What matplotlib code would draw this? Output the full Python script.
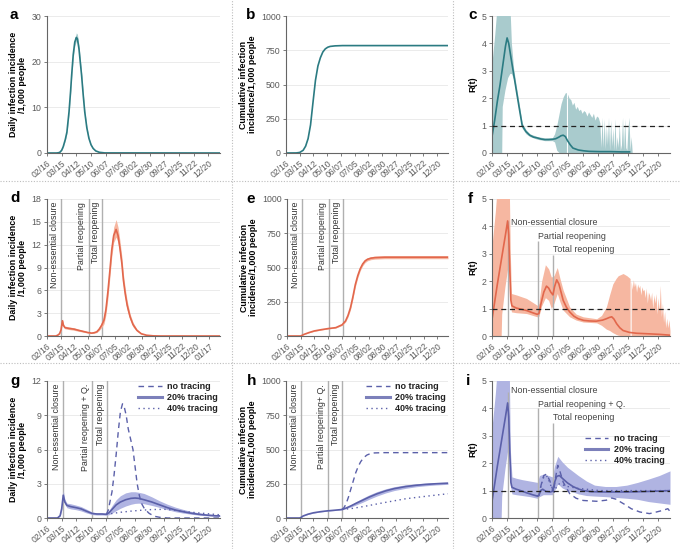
import matplotlib.pyplot as plt
from matplotlib.lines import Line2D

plt.rcParams['font.family'] = ['Liberation Sans', 'DejaVu Sans']

# tick labels (every 28 days from 02/16)
DATE_LABELS = ['02/16', '03/15', '04/12', '05/10', '06/07', '07/05', '08/02',
               '08/30', '09/27', '10/25', '11/22', '12/20']
D_DATE_LABELS = DATE_LABELS + ['01/17']

EVENT_DAYS = [30, 86, 114]
EVENTS_DE = ['Non-essential closure', 'Partial reopening', 'Total reopening']
EVENTS_G = ['Non-essential closure', 'Partial reopening + Q.', 'Total reopening']
EVENTS_H = ['Non-essential closure', 'Partial reopening+ Q.', 'Total reopening']
EVENTS_I = ['Non-essential closure', 'Partial reopening + Q.', 'Total reopening']
LEGEND_LABELS = ['no tracing', '20% tracing', '40% tracing']

# a - daily incidence, no intervention
A_DAYS = [0, 18, 22, 25, 28, 31, 35, 38, 42, 45, 47, 50, 53, 56, 58, 61, 64, 66, 69, 72, 76, 80, 84, 88, 93, 100, 110, 330]
A_MEAN = [0, 0, 0.05, 0.2, 0.6, 1.4, 3.0, 4.6, 9.0, 13.5, 17.0, 21.5, 24.3, 25.3, 25.0, 22.8, 19.3, 17.0, 12.8, 9.0, 5.5, 3.2, 1.8, 1.0, 0.45, 0.15, 0.02, 0]
A_LO = [0, 0, 0.04, 0.18, 0.55, 1.3, 2.8, 4.3, 8.6, 13.0, 16.4, 20.8, 23.5, 24.5, 24.2, 22.0, 18.6, 16.4, 12.3, 8.6, 5.2, 3.0, 1.7, 0.9, 0.4, 0.13, 0.02, 0]
A_HI = [0, 0, 0.06, 0.22, 0.65, 1.5, 3.2, 4.9, 9.4, 14.0, 17.6, 22.2, 25.1, 26.3, 26.0, 23.6, 20.0, 17.6, 13.3, 9.4, 5.8, 3.4, 1.9, 1.1, 0.5, 0.17, 0.02, 0]

# b - cumulative, no intervention
B_DAYS = [0, 21, 28, 35, 40, 45, 50, 55, 60, 65, 70, 75, 80, 85, 90, 100, 115, 330]
B_MEAN = [0, 0.5, 4, 20, 50, 105, 205, 370, 530, 635, 695, 737, 760, 772, 778, 782, 784, 784]

# c - R(t), no intervention
C_DAYS = [0, 5, 10, 15, 20, 25, 28, 31, 35, 40, 45, 50, 56, 63, 70, 77, 84, 91, 98, 105, 112, 118, 124, 128, 132, 136, 140, 145, 150, 160, 170, 180, 200, 220, 240, 255]
C_MEAN = [0.6, 1.2, 1.9, 2.5, 3.2, 3.9, 4.2, 4.0, 3.5, 2.9, 2.3, 1.7, 1.0, 0.78, 0.65, 0.58, 0.55, 0.51, 0.49, 0.49, 0.5, 0.52, 0.58, 0.63, 0.65, 0.6, 0.45, 0.3, 0.18, 0.11, 0.08, 0.06, 0.05, 0.05, 0.04, 0.04]
C_BAND_DAYS = [0, 5, 10, 18, 19, 24, 29, 33, 36, 40, 45, 50, 56, 63, 70, 84, 98, 112, 116, 120, 124, 128, 132, 136, 138]
C_BAND_LO = [0, 0, 0, 0, 1.7, 2.3, 2.75, 2.9, 2.9, 2.7, 2.15, 1.55, 0.9, 0.7, 0.6, 0.5, 0.45, 0.45, 0.4, 0.1, 0.02, 0, 0, 0, 0]
C_BAND_HI = [3.3, 4.3, 5.5, 5.5, 5.5, 5.5, 5.5, 5.5, 4.0, 3.1, 2.45, 1.85, 1.1, 0.85, 0.7, 0.6, 0.55, 0.56, 0.7, 1.0, 1.4, 1.8, 2.05, 2.2, 2.2]
C_SPIKE_DAYS = list(range(140, 201, 3)) + list(range(202, 261, 2))
C_SPIKE_HI = [2.15, 2.0, 1.95, 1.75, 1.85, 1.6, 1.7, 1.55, 1.6, 1.45, 1.55, 1.5, 1.35, 1.5, 1.4, 1.3, 1.45, 1.2, 1.35, 1.3, 1.1,
              0.2, 1.3, 0.2, 1.25, 0.15, 1.0, 0.3, 1.3, 0.1, 1.2, 0.25, 0.9, 0.1, 1.25, 0.1, 0.6, 0.2, 1.1, 0.1, 0.3,
              1.3, 0.1, 1.25, 0.2, 0.1, 0.9, 1.3, 0.1, 0.6, 0]

# d - daily incidence with interventions
D_DAYS = [0, 18, 22, 26, 29, 32, 34, 37, 45, 56, 65, 75, 85, 92, 97, 103, 108, 113, 118, 122, 126, 130, 134, 138, 143, 147, 151, 155, 158, 162, 166, 172, 178, 186, 195, 206, 220, 235, 358]
D_MEAN = [0, 0, 0.1, 0.3, 0.8, 2.0, 1.4, 1.1, 1.0, 0.9, 0.75, 0.6, 0.45, 0.38, 0.42, 0.55, 0.9, 1.4, 2.1, 3.5, 5.8, 8.5, 11.3, 13.2, 14.0, 13.2, 11.5, 9.5, 7.4, 5.5, 4.0, 2.5, 1.5, 0.75, 0.3, 0.1, 0.02, 0, 0]
D_LO = [0, 0, 0.08, 0.25, 0.7, 1.8, 1.25, 0.95, 0.85, 0.75, 0.62, 0.5, 0.38, 0.32, 0.35, 0.45, 0.72, 1.1, 1.6, 2.8, 4.9, 7.6, 10.4, 12.3, 13.0, 12.3, 10.6, 8.6, 6.6, 4.8, 3.4, 2.1, 1.2, 0.6, 0.24, 0.08, 0.01, 0, 0]
D_HI = [0, 0, 0.12, 0.35, 0.9, 2.25, 1.6, 1.3, 1.2, 1.08, 0.9, 0.72, 0.55, 0.46, 0.52, 0.7, 1.15, 1.8, 2.7, 4.4, 6.8, 9.5, 12.3, 14.3, 15.3, 14.3, 12.5, 10.4, 8.2, 6.2, 4.6, 2.9, 1.8, 0.9, 0.38, 0.13, 0.03, 0, 0]

# e - cumulative with interventions
E_DAYS = [0, 28, 31, 35, 45, 56, 70, 84, 100, 113, 120, 125, 130, 135, 140, 145, 150, 155, 160, 165, 172, 180, 200, 330]
E_MEAN = [0, 0, 5, 12, 25, 37, 46, 54, 61, 82, 110, 150, 205, 285, 375, 440, 490, 525, 548, 560, 568, 572, 575, 575]
E_LO = [0, 0, 4, 11, 23, 34, 43, 51, 58, 77, 102, 138, 190, 268, 357, 424, 476, 512, 536, 549, 557, 561, 564, 564]
E_HI = [0, 0, 6, 13, 27, 40, 49, 57, 64, 87, 118, 162, 220, 302, 393, 456, 504, 538, 560, 571, 579, 583, 586, 586]

# f - R(t) with interventions
F_DAYS = [0, 5, 10, 15, 20, 25, 29, 31, 33, 35, 37, 45, 56, 64, 75, 84, 87, 91, 96, 101, 105, 109, 113, 116, 120, 124, 128, 132, 138, 144, 152, 160, 170, 180, 193, 205, 212, 218, 222, 226, 231, 237, 243, 255, 268, 290, 310, 330]
F_MEAN = [0.6, 1.25, 1.9, 2.5, 3.1, 3.7, 4.2, 3.7, 2.4, 1.3, 1.1, 1.02, 0.97, 0.93, 0.85, 0.79, 0.82, 1.2, 1.6, 1.82, 1.75, 1.6, 1.5, 1.8, 2.05, 1.9, 1.6, 1.3, 1.05, 0.88, 0.72, 0.63, 0.57, 0.55, 0.54, 0.58, 0.63, 0.68, 0.7, 0.62, 0.45, 0.3, 0.2, 0.13, 0.1, 0.08, 0.06, 0.03]
F_BAND_DAYS = [0, 6, 10, 17, 18, 24, 30, 32, 34, 36, 45, 64, 84, 87, 92, 99, 105, 110, 115, 121, 126, 132, 144, 156, 169, 194, 203, 212, 218, 224, 230, 234, 243, 250, 256]
F_BAND_LO = [0, 0, 0, 0, 0.8, 1.8, 2.6, 2.4, 1.2, 0.88, 0.85, 0.82, 0.7, 0.72, 1.1, 1.4, 1.3, 1.0, 1.2, 1.55, 1.25, 0.94, 0.7, 0.58, 0.51, 0.48, 0.39, 0.25, 0.2, 0.12, 0.06, 0.03, 0, 0, 0]
F_BAND_HI = [3.3, 4.5, 5.5, 5.5, 5.5, 5.5, 5.5, 5.5, 3.0, 1.55, 1.5, 1.37, 1.12, 1.2, 2.0, 2.6, 2.45, 2.15, 2.2, 2.5, 2.1, 1.67, 1.06, 0.8, 0.7, 0.63, 0.75, 1.06, 1.5, 1.9, 2.1, 2.2, 2.28, 2.2, 2.1]
F_SPIKE_DAYS = list(range(258, 331, 2))
F_SPIKE_HI = [2.0, 1.7, 2.05, 1.8, 1.95, 1.6, 1.9, 1.75, 1.85, 1.5, 1.8, 1.65, 1.7, 1.4, 1.75, 1.2, 1.6, 1.5, 1.3,
              1.6, 1.0, 1.5, 1.2, 1.55, 0.8, 1.4, 0.9, 1.85, 0.7, 1.2, 0.5, 0.9, 0.3, 0.65, 0.3, 0.6, 0.2]

# g - daily incidence with contact tracing
G_DAYS = [0, 20, 25, 28, 31, 34, 38, 45, 56, 65, 75, 86, 95, 105, 113, 118, 125, 132, 140, 150, 160, 168, 175, 185, 200, 215, 230, 245, 260, 275, 290, 305, 320, 330]
G_20 = [0, 0, 0.2, 0.8, 2.0, 1.4, 1.1, 1.0, 0.9, 0.8, 0.6, 0.4, 0.35, 0.35, 0.32, 0.45, 0.8, 1.15, 1.4, 1.6, 1.72, 1.75, 1.72, 1.6, 1.4, 1.15, 0.9, 0.7, 0.55, 0.42, 0.32, 0.25, 0.2, 0.18]
G_20_LO = [0, 0, 0.15, 0.65, 1.7, 1.2, 0.9, 0.8, 0.72, 0.62, 0.45, 0.3, 0.26, 0.26, 0.25, 0.28, 0.45, 0.65, 0.85, 1.05, 1.2, 1.28, 1.3, 1.25, 1.1, 0.92, 0.72, 0.55, 0.43, 0.33, 0.25, 0.19, 0.15, 0.13]
G_20_HI = [0, 0, 0.25, 0.95, 2.4, 1.65, 1.3, 1.25, 1.12, 1.0, 0.78, 0.52, 0.45, 0.45, 0.42, 0.65, 1.15, 1.6, 1.95, 2.2, 2.3, 2.3, 2.25, 2.15, 1.85, 1.5, 1.2, 0.95, 0.75, 0.58, 0.45, 0.35, 0.3, 0.27]
G_NO_DAYS = [113, 117, 120, 124, 128, 132, 136, 140, 144, 147, 151, 155, 160, 164, 168, 172, 176, 180, 186, 195, 205, 215, 230, 330]
G_NO = [0.32, 0.7, 1.4, 2.3, 3.8, 5.6, 7.6, 9.3, 10.0, 9.8, 9.0, 7.8, 6.8, 6.0, 4.5, 3.0, 2.0, 1.3, 0.8, 0.4, 0.15, 0.06, 0, 0]
G_40_DAYS = [113, 125, 140, 160, 180, 200, 225, 245, 260, 290, 310, 330]
G_40 = [0.32, 0.4, 0.5, 0.6, 0.68, 0.74, 0.76, 0.68, 0.58, 0.44, 0.36, 0.28]

# h - cumulative with contact tracing
H_DAYS = [0, 28, 31, 35, 45, 56, 70, 84, 100, 114, 122, 132, 142, 155, 169, 185, 203, 220, 243, 265, 284, 305, 330]
H_20 = [0, 0, 5, 15, 28, 38, 46, 52, 57, 62, 72, 88, 106, 128, 152, 176, 198, 214, 229, 239, 245, 250, 254]
H_20_LO = [0, 0, 4, 14, 26, 36, 44, 50, 55, 60, 68, 80, 94, 113, 136, 160, 183, 200, 216, 228, 235, 241, 246]
H_20_HI = [0, 0, 6, 16, 30, 40, 48, 54, 59, 64, 76, 96, 118, 143, 168, 192, 213, 228, 242, 250, 255, 259, 262]
H_NO_DAYS = [114, 118, 122, 127, 132, 137, 142, 147, 152, 158, 165, 172, 180, 200, 330]
H_NO = [62, 75, 100, 150, 210, 270, 330, 375, 410, 440, 460, 470, 475, 477, 477]
H_40_DAYS = [114, 135, 160, 189, 215, 243, 265, 284, 305, 330]
H_40 = [62, 70, 85, 105, 122, 140, 150, 158, 167, 177]

# i - R(t) with contact tracing
I_DAYS = [0, 5, 10, 15, 20, 25, 29, 31, 33, 35, 37, 45, 56, 64, 75, 84, 87, 90, 94, 100, 108, 113, 116, 120, 125, 132, 140, 150, 160, 170, 185, 210, 250, 290, 330]
I_20 = [0.6, 1.25, 1.9, 2.5, 3.1, 3.7, 4.2, 3.7, 2.4, 1.3, 1.12, 1.05, 0.98, 0.92, 0.85, 0.8, 0.83, 1.0, 1.05, 0.97, 0.95, 0.98, 1.3, 1.52, 1.55, 1.42, 1.28, 1.15, 1.06, 1.0, 0.96, 0.95, 0.95, 0.97, 1.0]
I_BAND_DAYS = [0, 6, 10, 17, 18, 24, 30, 32, 34, 37, 45, 56, 70, 84, 88, 95, 105, 112, 116, 122, 130, 140, 150, 160, 175, 190, 210, 230, 250, 270, 290, 310, 330]
I_BAND_LO = [0, 0, 0, 0, 0.8, 1.8, 2.6, 2.4, 1.2, 0.88, 0.85, 0.82, 0.78, 0.72, 0.78, 0.85, 0.85, 0.85, 1.0, 1.25, 1.1, 1.0, 0.95, 0.88, 0.82, 0.8, 0.78, 0.75, 0.72, 0.68, 0.6, 0.55, 0.5]
I_BAND_HI = [3.3, 4.5, 5.5, 5.5, 5.5, 5.5, 5.5, 5.5, 2.5, 1.5, 1.45, 1.4, 1.35, 1.3, 1.55, 1.6, 1.55, 1.5, 1.9, 2.25, 2.05, 1.85, 1.7, 1.55, 1.35, 1.2, 1.15, 1.15, 1.2, 1.3, 1.42, 1.55, 1.72]
I_NO_DAYS = [84, 87, 91, 96, 101, 107, 114, 118, 122, 126, 132, 144, 156, 169, 194, 212, 222, 231, 237, 249, 258, 274, 292, 305, 317, 326, 330]
I_NO = [0.8, 0.82, 1.2, 1.55, 1.6, 1.37, 0.95, 1.5, 1.92, 1.7, 1.31, 0.89, 0.72, 0.64, 0.61, 0.65, 0.73, 0.68, 0.6, 0.46, 0.34, 0.22, 0.16, 0.22, 0.28, 0.34, 0.24]
I_40_DAYS = [84, 87, 91, 96, 101, 107, 114, 120, 125, 140, 160, 180, 200, 250, 330]
I_40 = [0.8, 0.82, 1.2, 1.5, 1.55, 1.3, 0.9, 1.15, 1.25, 1.15, 1.08, 1.04, 1.0, 1.0, 1.0]

TEAL, TEAL_FILL = '#2b7b82', '#a9cbcd'
ORANGE, ORANGE_FILL = '#e2674c', '#f6b7a1'
BLUE, BLUE_FILL = '#5b60a9', '#b0b4e2'
TICK_COLOR = '#5a5a5a'
EVENT_COLOR = '#b0b0b0'

W, H = 680, 549
fig = plt.figure(figsize=(W / 100, H / 100), dpi=100)


def add_axes(l, t, r, b):
    return fig.add_axes([l / W, 1 - b / H, (r - l) / W, (b - t) / H])


def style(ax, labels, xmax, ymax, yticks, ylabel):
    ax.set_xlim(0, xmax)
    ax.set_ylim(0, ymax)
    for s in ['top', 'right']:
        ax.spines[s].set_visible(False)
    for s in ['left', 'bottom']:
        ax.spines[s].set_color('#666666')
        ax.spines[s].set_linewidth(0.8)
    ax.set_xticks([28 * i for i in range(len(labels))])
    ax.set_xticklabels(labels, rotation=40, ha='right', va='top', rotation_mode='anchor',
                       fontsize=6.2, color=TICK_COLOR)
    ax.set_yticks(yticks)
    ax.set_yticklabels([str(t) for t in yticks], fontsize=6.3, color=TICK_COLOR)
    ax.tick_params(length=2.5, width=0.6, color='#666666', pad=1.5)
    ax.grid(axis='y', color='#e8e8e8', lw=0.6)
    ax.set_axisbelow(True)
    ax.set_ylabel(ylabel, fontsize=6.4, fontweight='bold', linespacing=1.0, labelpad=3)


def panel_letter(x, y, s):
    fig.text(x / W, 1 - y / H, s, fontsize=11, fontweight='bold', ha='left', va='center')


def vertical_events(ax, labels):
    for day, lab in zip(EVENT_DAYS, labels):
        ax.axvline(day, color=EVENT_COLOR, lw=1.0, zorder=1)
        ax.annotate(lab, xy=(day, 1), xycoords=('data', 'axes fraction'), xytext=(-1.5, -2),
                    textcoords='offset points', rotation=90, ha='right', va='top',
                    fontsize=6.4, color='#333333')


def r_events(ax, labels, tops, text_y):
    xs = [EVENT_DAYS[0] + 5, EVENT_DAYS[1] - 1, EVENT_DAYS[2] - 1]
    for day, top, lab, tx, ty in zip(EVENT_DAYS, tops, labels, xs, text_y):
        ax.vlines(day, 0, top, color=EVENT_COLOR, lw=1.0, zorder=1)
        ax.text(tx, ty, lab, ha='left', va='center', fontsize=6.4, color='#444444')


def r_ref(ax):
    ax.axhline(1, color='#222222', lw=0.9, ls=(0, (4, 3)), zorder=4)


daily_label = 'Daily infection incidence\n/1,000 people'
cum_label = 'Cumulative infection\nincidence/1,000 people'

# row 1
ax = add_axes(47, 16, 220, 153)
style(ax, DATE_LABELS, 330, 30, [0, 10, 20, 30], daily_label)
ax.fill_between(A_DAYS, A_LO, A_HI, color=TEAL_FILL, lw=0)
ax.plot(A_DAYS, A_MEAN, color=TEAL, lw=1.2)

ax = add_axes(286, 16, 448, 153)
style(ax, DATE_LABELS, 330, 1000, [0, 250, 500, 750, 1000], cum_label)
ax.plot(B_DAYS, B_MEAN, color=TEAL, lw=1.2)

ax = add_axes(492, 16, 670, 153)
style(ax, DATE_LABELS, 330, 5, [0, 1, 2, 3, 4, 5], 'R(t)')
ax.fill_between(C_BAND_DAYS, C_BAND_LO, C_BAND_HI, color=TEAL_FILL, lw=0)
ax.fill_between(C_SPIKE_DAYS, [0] * len(C_SPIKE_DAYS), C_SPIKE_HI, color=TEAL_FILL, lw=0)
ax.plot(C_DAYS, C_MEAN, color=TEAL, lw=1.2)
r_ref(ax)

# row 2
ax = add_axes(47, 199, 220, 336)
style(ax, D_DATE_LABELS, 358, 18, [0, 3, 6, 9, 12, 15, 18], daily_label)
vertical_events(ax, EVENTS_DE)
ax.fill_between(D_DAYS, D_LO, D_HI, color=ORANGE_FILL, lw=0)
ax.plot(D_DAYS, D_MEAN, color=ORANGE, lw=1.2)

ax = add_axes(287, 199, 448, 336)
style(ax, DATE_LABELS, 330, 1000, [0, 250, 500, 750, 1000], cum_label)
vertical_events(ax, EVENTS_DE)
ax.fill_between(E_DAYS, E_LO, E_HI, color=ORANGE_FILL, lw=0)
ax.plot(E_DAYS, E_MEAN, color=ORANGE, lw=1.2)

ax = add_axes(492, 199, 670, 336)
style(ax, DATE_LABELS, 330, 5, [0, 1, 2, 3, 4, 5], 'R(t)')
ax.fill_between(F_BAND_DAYS, F_BAND_LO, F_BAND_HI, color=ORANGE_FILL, lw=0)
ax.fill_between(F_SPIKE_DAYS, [0] * len(F_SPIKE_DAYS), F_SPIKE_HI, color=ORANGE_FILL, lw=0)
r_events(ax, EVENTS_DE, [4.2, 3.46, 2.97], [4.13, 3.62, 3.16])
ax.plot(F_DAYS, F_MEAN, color=ORANGE, lw=1.2)
r_ref(ax)

# row 3
legend_handles = [Line2D([], [], color=BLUE, lw=1.0, ls=(0, (4, 3))),
                  Line2D([], [], color=BLUE, lw=2.2, alpha=0.8),
                  Line2D([], [], color=BLUE, lw=1.0, ls=(0, (1, 2.5)))]


def add_legend(ax, loc, anchor):
    leg = ax.legend(legend_handles, LEGEND_LABELS, loc=loc, bbox_to_anchor=anchor, frameon=False,
                    fontsize=6.5, handlelength=2.6, handletextpad=0.6, labelspacing=0.2,
                    borderaxespad=0.2)
    for t in leg.get_texts():
        t.set_fontweight('bold')
        t.set_color('#222222')


ax = add_axes(47, 381, 220, 518)
style(ax, DATE_LABELS, 330, 12, [0, 3, 6, 9, 12], daily_label)
vertical_events(ax, EVENTS_G)
ax.fill_between(G_DAYS, G_20_LO, G_20_HI, color=BLUE_FILL, lw=0)
ax.plot(G_DAYS, G_20, color=BLUE, lw=1.2)
ax.plot(G_NO_DAYS, G_NO, color=BLUE, lw=1.0, ls=(0, (4, 3)))
ax.plot(G_40_DAYS, G_40, color=BLUE, lw=1.0, ls=(0, (1, 2.5)))
add_legend(ax, 'upper right', (1.02, 1.03))

ax = add_axes(286, 381, 448, 518)
style(ax, DATE_LABELS, 330, 1000, [0, 250, 500, 750, 1000], cum_label)
vertical_events(ax, EVENTS_H)
ax.fill_between(H_DAYS, H_20_LO, H_20_HI, color=BLUE_FILL, lw=0)
ax.plot(H_DAYS, H_20, color=BLUE, lw=1.2)
ax.plot(H_NO_DAYS, H_NO, color=BLUE, lw=1.0, ls=(0, (4, 3)))
ax.plot(H_40_DAYS, H_40, color=BLUE, lw=1.0, ls=(0, (1, 2.5)))
add_legend(ax, 'upper right', (1.02, 1.03))

ax = add_axes(492, 381, 670, 518)
style(ax, DATE_LABELS, 330, 5, [0, 1, 2, 3, 4, 5], 'R(t)')
ax.fill_between(I_BAND_DAYS, I_BAND_LO, I_BAND_HI, color=BLUE_FILL, lw=0)
r_events(ax, EVENTS_I, [4.6, 4.03, 3.48], [4.66, 4.15, 3.65])
ax.plot(I_DAYS, I_20, color=BLUE, lw=1.2)
ax.plot(I_NO_DAYS, I_NO, color=BLUE, lw=1.0, ls=(0, (4, 3)))
ax.plot(I_40_DAYS, I_40, color=BLUE, lw=1.0, ls=(0, (1, 2.5)))
r_ref(ax)
add_legend(ax, 'center right', (1.0, 0.5))

# panel letters
for x, y, s in [(10, 15, 'a'), (246, 15, 'b'), (468, 15, 'c'),
                (10, 198, 'd'), (246, 199, 'e'), (468, 199, 'f'),
                (10, 381, 'g'), (247, 381, 'h'), (466, 381, 'i')]:
    panel_letter(x, y, s)

# dotted separators between panels
for y in [181, 363]:
    fig.add_artist(Line2D([0, 1], [1 - y / H] * 2, transform=fig.transFigure,
                          ls=(0, (1, 1.5)), color='#bdbdbd', lw=0.8))
for x in [232, 453]:
    fig.add_artist(Line2D([x / W] * 2, [0, 1], transform=fig.transFigure,
                          ls=(0, (1, 1.5)), color='#bdbdbd', lw=0.8))

fig.savefig('out.png', dpi=100)
